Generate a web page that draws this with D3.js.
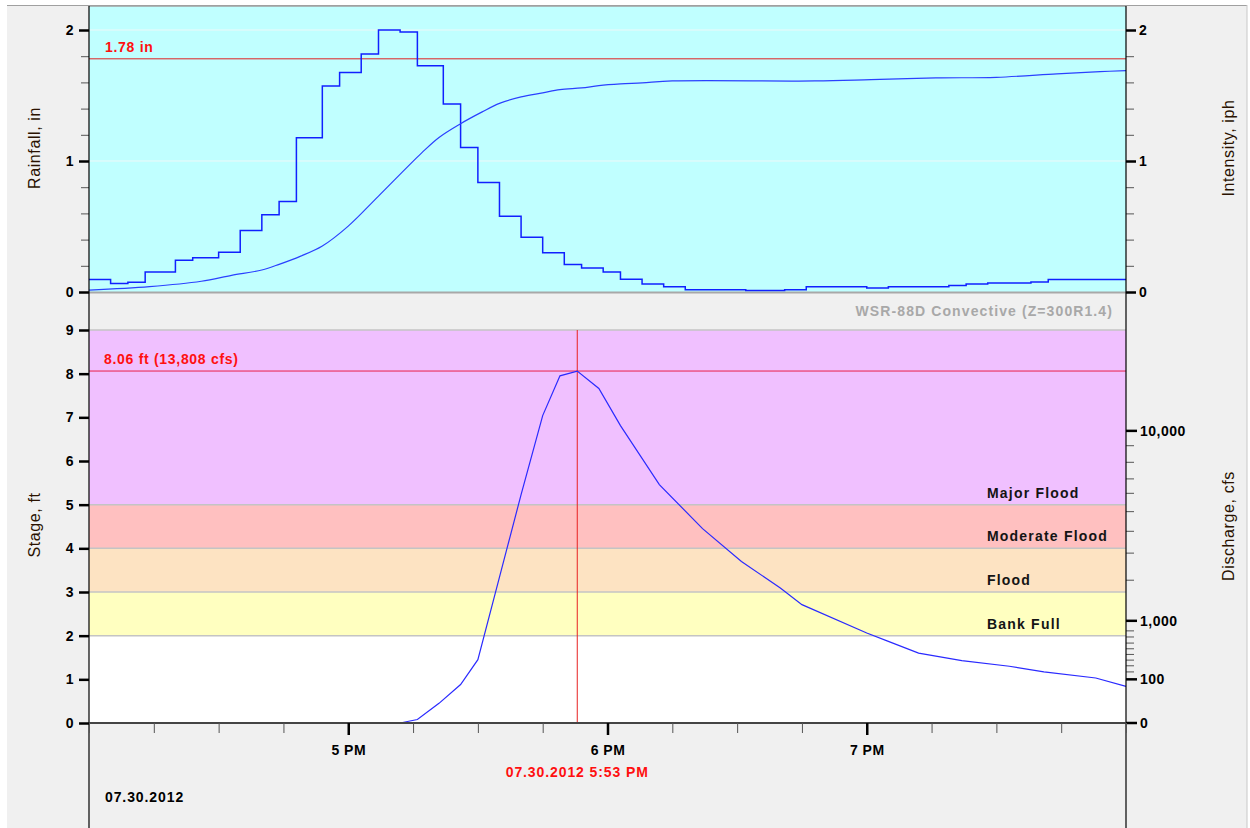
<!DOCTYPE html>
<html>
<head>
<meta charset="utf-8">
<script src="https://cdn.jsdelivr.net/npm/d3@7"></script>
<style>
  body { margin: 0; background: #fff; }
  svg text { font-family: "Liberation Sans", Arial, sans-serif; }
</style>
</head>
<body>
<script>
// rainfall intensity steps (start time of each step, iph)
var stepTimes = ["16:00","16:05","16:09","16:13","16:20","16:24","16:30","16:35","16:40","16:44",
  "16:48","16:54","16:58","17:03","17:07","17:12","17:16","17:22","17:26","17:30",
  "17:35","17:40","17:45","17:50","17:54","17:59","18:03","18:08","18:13","18:18",
  "18:32","18:41","18:46","19:00","19:05","19:19","19:23","19:28","19:38","19:42"];
var stepValues = [0.095,0.064,0.074,0.152,0.242,0.262,0.303,0.47,0.59,0.69,
  1.177,1.573,1.675,1.817,2.0,1.985,1.728,1.436,1.103,0.836,
  0.579,0.417,0.30,0.209,0.183,0.152,0.097,0.061,0.041,0.018,
  0.011,0.018,0.041,0.030,0.041,0.049,0.061,0.069,0.076,0.095];

// cumulative rainfall, in
var totalTimes = ["16:00","16:14","16:26","16:33","16:40","16:44","16:49","16:54","17:00","17:07",
  "17:17","17:21","17:26","17:31","17:35","17:40","17:45","17:49","17:54","17:58",
  "18:03","18:08","18:15","18:48","19:01","19:16","19:30","19:44","19:54","20:00"];
var totalValues = [0.015,0.041,0.082,0.127,0.168,0.211,0.274,0.351,0.503,0.732,
  1.062,1.180,1.285,1.375,1.440,1.489,1.520,1.545,1.558,1.575,
  1.588,1.596,1.611,1.611,1.621,1.634,1.639,1.665,1.682,1.69];
var totalRain = 1.78;

// stage hydrograph, ft
var stageTimes = ["16:00","17:12","17:16","17:21","17:26","17:30","17:35","17:40","17:45","17:49",
  "17:53","17:58","18:03","18:12","18:22","18:31","18:40","18:45","19:00","19:05",
  "19:12","19:22","19:33","19:41","19:53","20:00"];
var stageValues = [0,0,0.08,0.45,0.88,1.45,3.34,5.23,7.04,7.95,
  8.06,7.66,6.81,5.46,4.45,3.70,3.09,2.71,2.06,1.87,
  1.60,1.43,1.30,1.17,1.03,0.84];
var peakTime = "17:53", peakStage = 8.06, peakFlow = 13808;

// rating curve for the discharge axis
var ratingFlow = [0,100,200,300,400,500,600,700,800,900,1000,2000,3000,4000,5000,6000,7000,8000,9000,10000,13808];
var ratingStage = [0,1.0,1.17,1.31,1.44,1.57,1.70,1.83,1.97,2.11,2.34,3.27,3.89,4.39,4.84,5.26,5.59,5.97,6.35,6.69,8.06];
var flowLabels = [0,100,1000,10000];

// flood bands
var bandLevels = [0,2,3,4,5,9];
var bandColors = ["#ffffff","#ffffc0","#fde3c2","#ffc0c0","#f0c0ff"];
var bandNames = ["","Bank Full","Flood","Moderate Flood","Major Flood"];

var W = 1250, H = 828;
var L = 89, R = 1126;
var FS = 14, LS = 0.7;
var parse = function(s) { return d3.timeParse("%Y-%m-%d %H:%M")("2012-07-30 " + s); };

var svg = d3.select("body").append("svg").attr("width", W).attr("height", H);

svg.append("rect").attr("x", 7).attr("y", 5).attr("width", 1240).attr("height", H - 5).attr("fill", "#f0f0f0");
svg.append("line").attr("x1", 7).attr("x2", 1247).attr("y1", 5.5).attr("y2", 5.5).attr("stroke", "#a0a0a0");
svg.append("line").attr("x1", 1247).attr("x2", 1247).attr("y1", 5).attr("y2", H).attr("stroke", "#c8c8c8");

var x = d3.scaleTime().domain([parse("16:00"), parse("20:00")]).range([L, R]);
var yTop = d3.scaleLinear().domain([0, 2]).range([292, 30]);
var yBot = d3.scaleLinear().domain([0, 9]).range([723, 330]);
var flowToStage = d3.scaleLinear().domain(ratingFlow).range(ratingStage);

// ---- top panel
svg.append("rect").attr("x", L).attr("y", 6).attr("width", R - L).attr("height", 286).attr("fill", "#c0ffff");
svg.selectAll(".gridTop").data([1, 2]).enter().append("line")
  .attr("x1", L).attr("x2", R).attr("y1", function(d) { return yTop(d); }).attr("y2", function(d) { return yTop(d); })
  .attr("stroke", "#eef8f8");
svg.append("line").attr("x1", L).attr("x2", R).attr("y1", 292.5).attr("y2", 292.5).attr("stroke", "#a8a8a8").attr("stroke-width", 2);
svg.append("line").attr("x1", L).attr("x2", R).attr("y1", 6).attr("y2", 6).attr("stroke", "#a0a0a0").attr("stroke-width", 1.5);

svg.append("line").attr("x1", L).attr("x2", R).attr("y1", yTop(totalRain)).attr("y2", yTop(totalRain))
  .attr("stroke", "#e02020").attr("stroke-width", 1);
svg.append("text").attr("x", 105).attr("y", yTop(totalRain) - 7).attr("fill", "#ff1010")
  .attr("font-size", FS).attr("font-weight", "bold").attr("letter-spacing", LS).text(totalRain.toFixed(2) + " in");

var steps = stepTimes.map(function(t, i) { return { t: parse(t), v: stepValues[i] }; });
steps.push({ t: parse("20:00"), v: stepValues[stepValues.length - 1] });
svg.append("path").datum(steps)
  .attr("d", d3.line().curve(d3.curveStepAfter).x(function(d) { return x(d.t); }).y(function(d) { return yTop(d.v); }))
  .attr("fill", "none").attr("stroke", "#1020ff").attr("stroke-width", 1.5);

var totals = totalTimes.map(function(t, i) { return { t: parse(t), v: totalValues[i] }; });
svg.append("path").datum(totals)
  .attr("d", d3.line().curve(d3.curveCatmullRom.alpha(0.5)).x(function(d) { return x(d.t); }).y(function(d) { return yTop(d.v); }))
  .attr("fill", "none").attr("stroke", "#2a40ff").attr("stroke-width", 1.2);

// ---- bottom panel
for (var i = 0; i < bandColors.length; i++) {
  svg.append("rect").attr("x", L).attr("width", R - L)
    .attr("y", yBot(bandLevels[i + 1])).attr("height", yBot(bandLevels[i]) - yBot(bandLevels[i + 1]))
    .attr("fill", bandColors[i]);
}
svg.selectAll(".bandLine").data(bandLevels.slice(1)).enter().append("line")
  .attr("x1", L).attr("x2", R).attr("y1", function(d) { return yBot(d); }).attr("y2", function(d) { return yBot(d); })
  .attr("stroke", "#c4c4c4").attr("stroke-width", 1.5);
svg.selectAll(".bandName").data(bandNames.slice(1)).enter().append("text")
  .attr("x", 987).attr("y", function(d, i) { return yBot(bandLevels[i + 1]) - 7; })
  .attr("font-size", FS).attr("font-weight", "bold").attr("letter-spacing", 1.2).attr("fill", "#141414")
  .text(function(d) { return d; });

svg.append("text").attr("x", 1113).attr("y", 316).attr("text-anchor", "end")
  .attr("font-size", FS).attr("font-weight", "bold").attr("letter-spacing", 1.1).attr("fill", "#a8a8a8")
  .text("WSR-88D Convective (Z=300R1.4)");

svg.append("line").attr("x1", L).attr("x2", R).attr("y1", yBot(peakStage)).attr("y2", yBot(peakStage))
  .attr("stroke", "#e8204a").attr("stroke-width", 1);
svg.append("line").attr("x1", x(parse(peakTime))).attr("x2", x(parse(peakTime))).attr("y1", yBot(9)).attr("y2", yBot(0))
  .attr("stroke", "#e82020").attr("stroke-width", 1);
svg.append("text").attr("x", 104).attr("y", yBot(peakStage) - 7).attr("fill", "#ff1010")
  .attr("font-size", FS).attr("font-weight", "bold").attr("letter-spacing", LS)
  .text(peakStage.toFixed(2) + " ft (" + d3.format(",")(peakFlow) + " cfs)");

var stages = stageTimes.map(function(t, i) { return { t: parse(t), v: stageValues[i] }; });
svg.append("path").datum(stages)
  .attr("d", d3.line().x(function(d) { return x(d.t); }).y(function(d) { return yBot(d.v); }))
  .attr("fill", "none").attr("stroke", "#2a2aff").attr("stroke-width", 1.2);

// ---- axes
function styleAxis(g, major) {
  g.select(".domain").remove();
  g.selectAll(".tick line").attr("stroke", major ? "#000" : "#555").attr("stroke-width", major ? 2.5 : 1);
  g.selectAll(".tick text").attr("font-size", FS).attr("font-weight", "bold").attr("letter-spacing", 0.5).attr("fill", "#000");
}

var gl = svg.append("g").attr("transform", "translate(" + L + ",0)")
  .call(d3.axisLeft(yTop).tickValues(d3.range(0, 2.01, 0.2)).tickSize(8).tickFormat(""));
styleAxis(gl, false);
gl = svg.append("g").attr("transform", "translate(" + L + ",0)")
  .call(d3.axisLeft(yTop).tickValues([0, 1, 2]).tickSize(10).tickPadding(5).tickFormat(d3.format("d")));
styleAxis(gl, true);

var gr = svg.append("g").attr("transform", "translate(" + R + ",0)")
  .call(d3.axisRight(yTop).tickValues(d3.range(0, 2.01, 0.2)).tickSize(8).tickFormat(""));
styleAxis(gr, false);
gr = svg.append("g").attr("transform", "translate(" + R + ",0)")
  .call(d3.axisRight(yTop).tickValues([0, 1, 2]).tickSize(10).tickPadding(3).tickFormat(d3.format("d")));
styleAxis(gr, true);

var gs = svg.append("g").attr("transform", "translate(" + L + ",0)")
  .call(d3.axisLeft(yBot).tickValues(d3.range(0, 10)).tickSize(10).tickPadding(5).tickFormat(d3.format("d")));
styleAxis(gs, true);

var yFlow = function(q) { return yBot(flowToStage(q)); };
var minorFlows = ratingFlow.filter(function(q) { return q > 100 && q < 10000 && flowLabels.indexOf(q) < 0; });
svg.selectAll(".flowMinor").data(minorFlows).enter().append("line")
  .attr("x1", R).attr("x2", R + 8).attr("y1", yFlow).attr("y2", yFlow)
  .attr("stroke", "#555").attr("stroke-width", 1);
svg.selectAll(".flowMajor").data(flowLabels).enter().append("line")
  .attr("x1", R).attr("x2", R + 11).attr("y1", yFlow).attr("y2", yFlow)
  .attr("stroke", "#000").attr("stroke-width", 2.5);
svg.selectAll(".flowLabel").data(flowLabels).enter().append("text")
  .attr("x", R + 14).attr("y", yFlow).attr("dy", "0.35em")
  .attr("font-size", FS).attr("font-weight", "bold").attr("letter-spacing", 0.5)
  .text(d3.format(","));

svg.append("line").attr("x1", L).attr("x2", L).attr("y1", 6).attr("y2", H).attr("stroke", "#000").attr("stroke-width", 1.2);
svg.append("line").attr("x1", R).attr("x2", R).attr("y1", 6).attr("y2", H).attr("stroke", "#000").attr("stroke-width", 1.2);
svg.append("line").attr("x1", L).attr("x2", R).attr("y1", 723).attr("y2", 723).attr("stroke", "#444").attr("stroke-width", 2);

var gx = svg.append("g").attr("transform", "translate(0,723)")
  .call(d3.axisBottom(x).ticks(d3.timeMinute.every(15)).tickSize(10).tickFormat(""));
styleAxis(gx, false);
gx = svg.append("g").attr("transform", "translate(0,723)")
  .call(d3.axisBottom(x).tickValues([parse("17:00"), parse("18:00"), parse("19:00")]).tickSize(12).tickPadding(6)
    .tickFormat(d3.timeFormat("%-I %p")));
styleAxis(gx, true);
gx.selectAll(".tick text").attr("dy", "1.0em");

svg.append("text").attr("x", x(parse(peakTime))).attr("y", 777).attr("text-anchor", "middle")
  .attr("font-size", FS).attr("font-weight", "bold").attr("letter-spacing", 0.9).attr("fill", "#ff1010").text("07.30.2012 5:53 PM");
svg.append("text").attr("x", 105).attr("y", 802)
  .attr("font-size", FS).attr("font-weight", "bold").attr("letter-spacing", 0.9).attr("fill", "#000").text("07.30.2012");

// ---- axis titles
var titles = [
  { text: "Rainfall, in", x: 34, y: 148 },
  { text: "Intensity, iph", x: 1228, y: 148 },
  { text: "Stage, ft", x: 34, y: 525 },
  { text: "Discharge, cfs", x: 1228, y: 526 }
];
svg.selectAll(".title").data(titles).enter().append("text")
  .attr("transform", function(d) { return "translate(" + d.x + "," + d.y + ") rotate(-90)"; })
  .attr("text-anchor", "middle").attr("dy", "0.35em")
  .attr("font-size", 16).attr("letter-spacing", 0.6).attr("fill", "#2a1200")
  .text(function(d) { return d.text; });
</script>
</body>
</html>
